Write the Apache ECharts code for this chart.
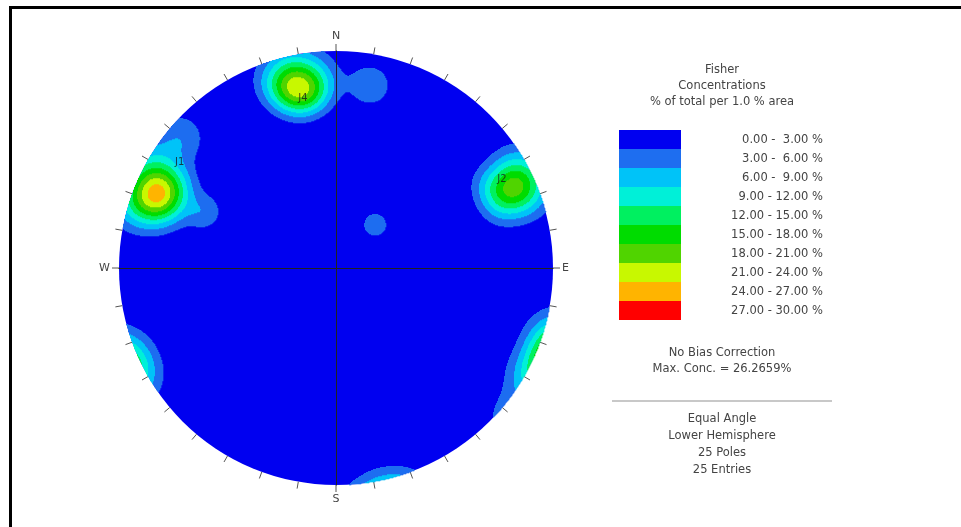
<!DOCTYPE html>
<html>
<head>
<meta charset="utf-8">
<script src="https://cdn.jsdelivr.net/npm/echarts@6/dist/echarts.min.js"></script>
<style>
  html, body { margin: 0; padding: 0; background: #fff; }
  #chart { width: 961px; height: 527px; }
</style>
</head>
<body>
<div id="chart"></div>
<script>
// Pole orientations, degrees (trend measured clockwise from north, plunge down from horizontal)
const poleTrend  = [293, 295, 291, 287, 299, 292, 298, 288, 310, 293,
                    65, 61, 69, 66, 62, 69,
                    343, 353, 345, 350, 348, 353, 346,
                    10.5, 42];
const polePlunge = [5, 6, 4, 2, 1, 11, 10, 9, 4, 23,
                    7, 3, 5, 2, 12, 12,
                    6, 7, 9, 13, 4, 11, 12,
                    9, 60];

// Joint set labels
const setNames  = ['J1', 'J2', 'J4'];
const setTrend  = [304, 62, 349];
const setPlunge = [8, 8.2, 12.8];

// Contour classes, % of total per 1.0 % area
const levelEdges  = [0, 3, 6, 9, 12, 15, 18, 21, 24, 27, 30];
const levelColors = ['#0000f0', '#1e6ef0', '#00c3f8', '#00f0d8', '#00f060',
                     '#00dc00', '#50d400', '#c8f800', '#ffb400', '#ff0000'];
const fisherK = 130;

const compassLabels = { 0: 'N', 90: 'E', 180: 'S', 270: 'W' };
const titleLines = ['Fisher', 'Concentrations', '% of total per 1.0 % area'];
const infoLines  = ['No Bias Correction', 'Max. Conc. = 26.2659%'];
const projLines  = ['Equal Angle', 'Lower Hemisphere', '25 Poles', '25 Entries'];

const D = Math.PI / 180;
function lineVec(t, p) {
  return [Math.cos(p * D) * Math.sin(t * D), Math.cos(p * D) * Math.cos(t * D), Math.sin(p * D)];
}
// equal-angle, lower hemisphere: unit-circle coordinates (east, north)
function project(t, p) {
  const rho = Math.tan((90 - p) * D / 2);
  return [rho * Math.sin(t * D), rho * Math.cos(t * D)];
}

// Fisher density on the net, axial kernel
const cells = 434;
const h = 2 / cells;
const poles = poleTrend.map((t, i) => lineVec(t, polePlunge[i]));
const norm = fisherK / (poles.length * (1 - Math.exp(-2 * fisherK)));
const densityCells = [];
for (let i = 0; i < cells; i++) {
  const u = -1 + (i + 0.5) * h;
  for (let j = 0; j < cells; j++) {
    const v = -1 + (j + 0.5) * h;
    const r2 = u * u + v * v;
    if (r2 > 1) continue;
    const rho = Math.sqrt(r2);
    const th = 2 * Math.atan(rho);
    const s = Math.sin(th);
    const e = rho > 0 ? s * u / rho : 0;
    const n = rho > 0 ? s * v / rho : 0;
    const d = Math.cos(th);
    let sum = 0;
    for (const q of poles) {
      const c = e * q[0] + n * q[1] + d * q[2];
      sum += Math.exp(fisherK * (c - 1)) + Math.exp(-fisherK * (c + 1));
    }
    const pct = norm * sum;
    if (pct >= levelEdges[1]) densityCells.push([u, v, pct]);
  }
}

const setData = setNames.map((name, i) => ({ name, value: project(setTrend[i], setPlunge[i]) }));

const pieces = levelColors.map((color, i) => ({ gte: levelEdges[i], lt: levelEdges[i + 1], color }));
pieces[pieces.length - 1].lt = Infinity;

function classLabel(i) {
  const lo = levelEdges[i].toFixed(2);
  const hi = levelEdges[i + 1].toFixed(2);
  return lo + ' - ' + (levelEdges[i + 1] < 10 ? ' ' : '') + hi + ' %';
}

const font = '"DejaVu Sans", sans-serif';
const txtFont = '11.5px ' + font;
const txtColor = '#444';
const cx = 722;
const graphics = [
  { type: 'rect', shape: { x: 10.5, y: 7.5, width: 1200, height: 800 },
    style: { fill: 'none', stroke: '#000', lineWidth: 3 }, z: 10 }
];
const titleY = [70, 86, 102];
titleLines.forEach((t, i) => graphics.push({
  type: 'text', x: cx, y: titleY[i],
  style: { text: t, font: txtFont, fill: txtColor, align: 'center', verticalAlign: 'middle' }
}));
const barTop = 130, barH = 19;
levelColors.forEach((color, i) => {
  graphics.push({ type: 'rect', shape: { x: 619, y: barTop + i * barH, width: 62, height: barH },
    style: { fill: color } });
  graphics.push({ type: 'text', x: 823, y: barTop + i * barH + barH / 2 + 1,
    style: { text: classLabel(i), font: txtFont, fill: txtColor, align: 'right', verticalAlign: 'middle' } });
});
const infoY = [353, 369];
infoLines.forEach((t, i) => graphics.push({
  type: 'text', x: cx, y: infoY[i],
  style: { text: t, font: txtFont, fill: txtColor, align: 'center', verticalAlign: 'middle' }
}));
graphics.push({ type: 'line', shape: { x1: 612, y1: 401, x2: 832, y2: 401 },
  style: { stroke: '#c8c8c8', lineWidth: 2 } });
const projY = [419, 436, 453, 470];
projLines.forEach((t, i) => graphics.push({
  type: 'text', x: cx, y: projY[i],
  style: { text: t, font: txtFont, fill: txtColor, align: 'center', verticalAlign: 'middle' }
}));

const chart = echarts.init(document.getElementById('chart'), null, { renderer: 'canvas' });
chart.setOption({
  animation: false,
  backgroundColor: '#fff',
  polar: { center: [336, 268], radius: 217 },
  angleAxis: {
    type: 'value', min: 0, max: 360, interval: 10, startAngle: 90, clockwise: true, z: 0,
    axisLine: { show: false },
    axisTick: { show: true, length: 7, lineStyle: { color: '#555', width: 1 } },
    axisLabel: { show: true, margin: 9, color: '#444', fontSize: 11, fontFamily: font,
      formatter: v => compassLabels[v] || '' },
    splitLine: { show: false }
  },
  radiusAxis: {
    type: 'value', min: 0, max: 1, interval: 1, z: 0,
    axisLine: { show: false }, axisTick: { show: false }, axisLabel: { show: false },
    splitLine: { show: false },
    splitArea: { show: true, areaStyle: { color: [levelColors[0]] } }
  },
  grid: { left: 119, top: 51, width: 434, height: 434 },
  xAxis: {
    type: 'value', min: -1, max: 1, z: 3,
    axisLine: { show: true, onZero: true, lineStyle: { color: '#222', width: 1 } },
    axisTick: { show: false }, axisLabel: { show: false }, splitLine: { show: false }
  },
  yAxis: {
    type: 'value', min: -1, max: 1, z: 3,
    axisLine: { show: true, onZero: true, lineStyle: { color: '#222', width: 1 } },
    axisTick: { show: false }, axisLabel: { show: false }, splitLine: { show: false }
  },
  visualMap: { type: 'piecewise', show: false, seriesIndex: 0, dimension: 2, pieces },
  series: [
    {
      type: 'custom',
      coordinateSystem: 'cartesian2d',
      data: densityCells,
      progressive: 0,
      silent: true,
      z: 2,
      renderItem(params, api) {
        const p = api.coord([api.value(0) - h / 2, api.value(1) + h / 2]);
        const s = api.size([h, h]);
        return { type: 'rect', shape: { x: p[0], y: p[1], width: s[0] + 0.3, height: s[1] + 0.3 },
          style: { fill: api.visual('color') } };
      }
    },
    {
      type: 'scatter',
      coordinateSystem: 'cartesian2d',
      data: setData,
      symbolSize: 0,
      z: 5,
      label: { show: true, position: 'inside', formatter: '{b}', color: '#1a1a1a', fontSize: 10, fontFamily: font }
    }
  ],
  graphic: graphics
});
</script>
</body>
</html>
